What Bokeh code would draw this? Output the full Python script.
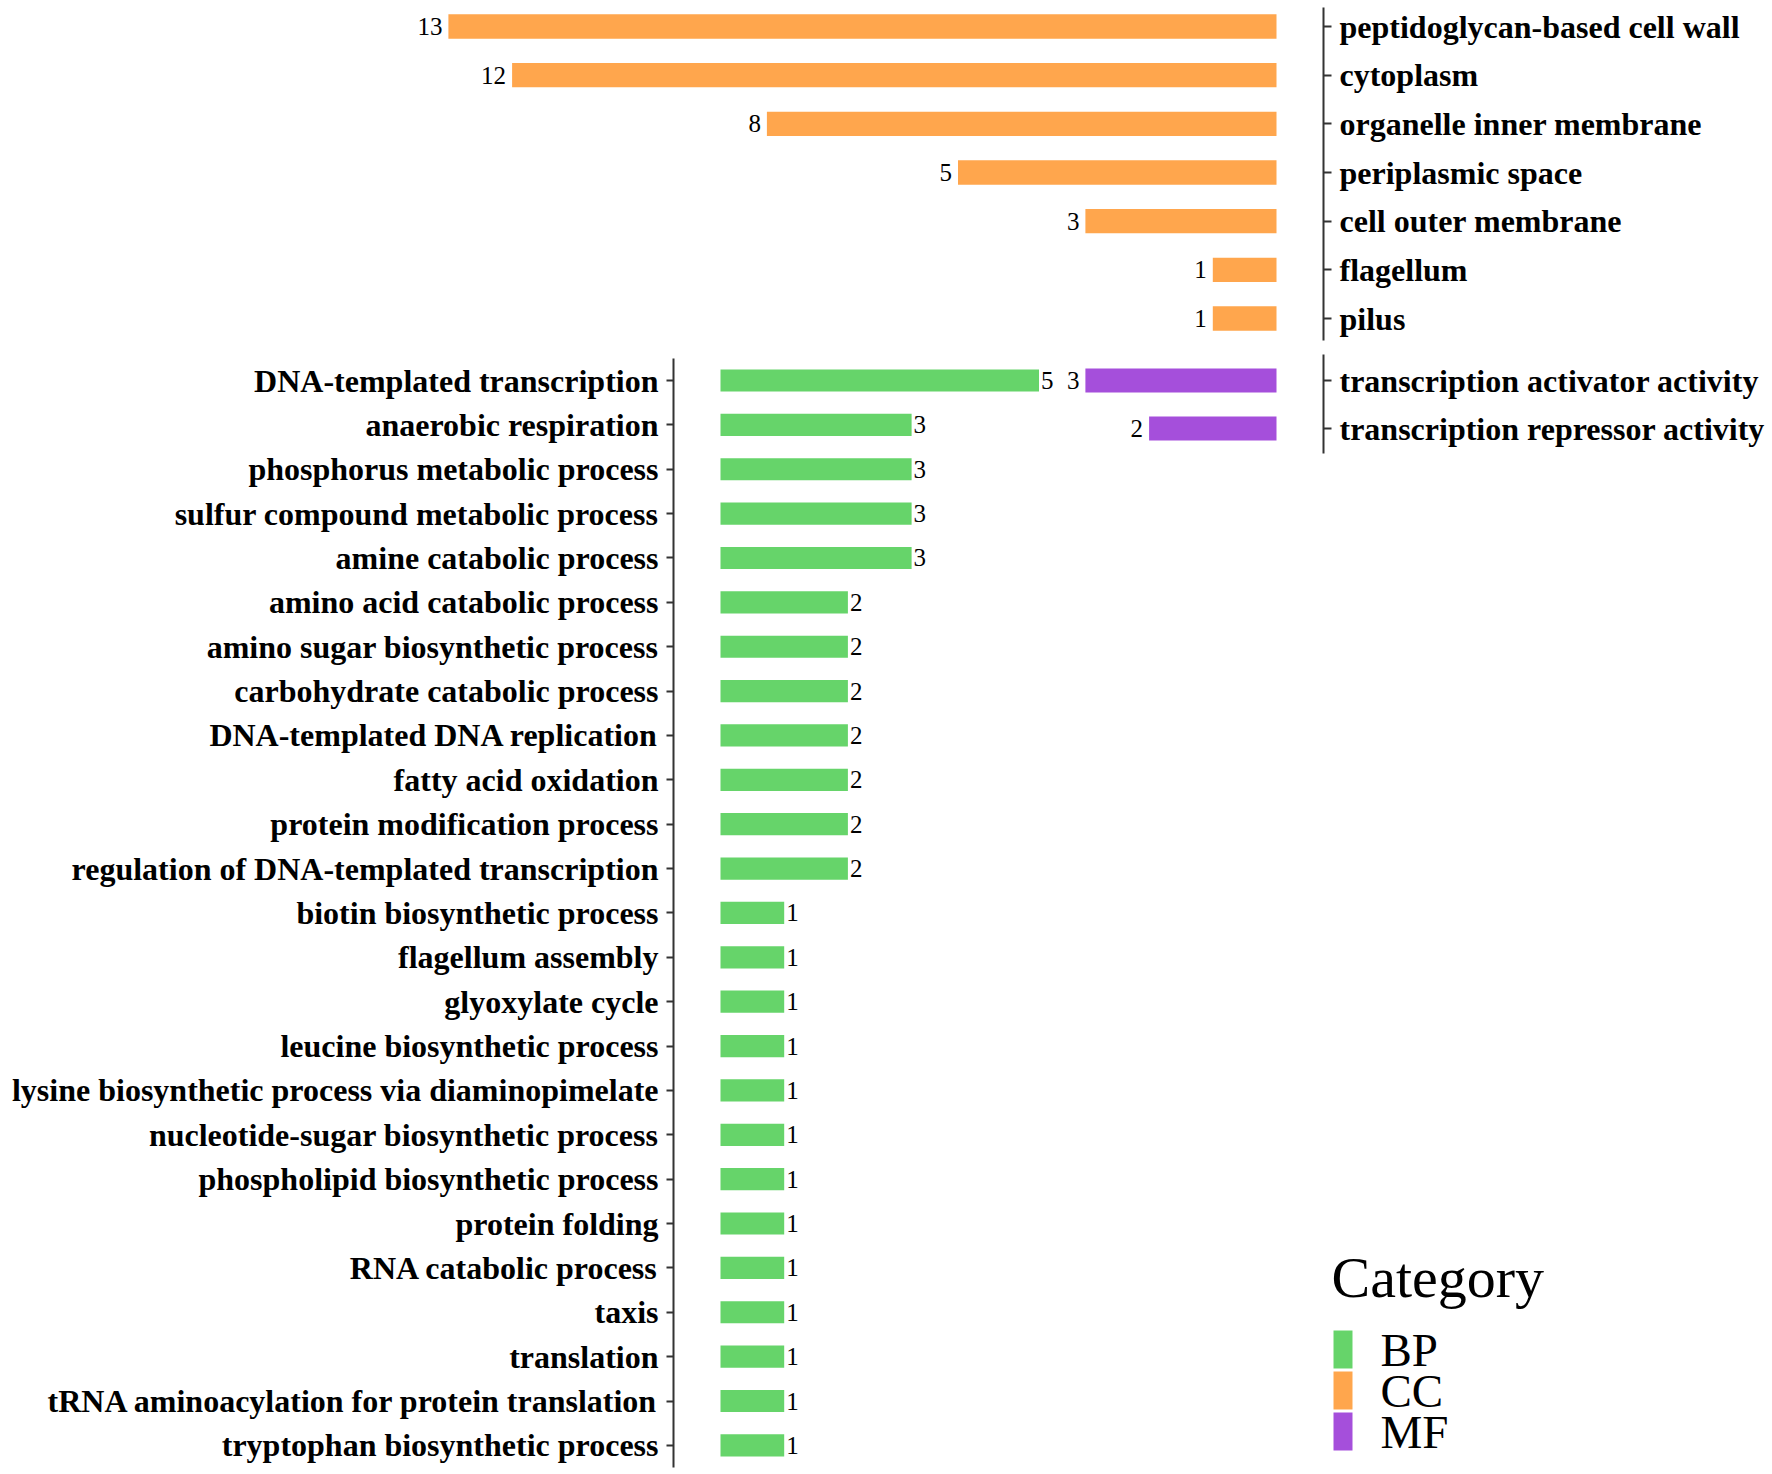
import numpy as np
from bokeh.plotting import figure
from bokeh.models import Range1d, FixedTicker, ColumnDataSource
from bokeh.layouts import row, column
from bokeh.core.properties import value
from bokeh.embed import file_html
from bokeh.resources import INLINE

# ---------------- data ----------------
cc_terms = ["peptidoglycan-based cell wall", "cytoplasm", "organelle inner membrane",
            "periplasmic space", "cell outer membrane", "flagellum", "pilus"]
cc_counts = [13, 12, 8, 5, 3, 1, 1]

mf_terms = ["transcription activator activity", "transcription repressor activity"]
mf_counts = [3, 2]

bp_terms = ["DNA-templated transcription", "anaerobic respiration",
            "phosphorus metabolic process", "sulfur compound metabolic process",
            "amine catabolic process", "amino acid catabolic process",
            "amino sugar biosynthetic process", "carbohydrate catabolic process",
            "DNA-templated DNA replication", "fatty acid oxidation",
            "protein modification process", "regulation of DNA-templated transcription",
            "biotin biosynthetic process", "flagellum assembly", "glyoxylate cycle",
            "leucine biosynthetic process", "lysine biosynthetic process via diaminopimelate",
            "nucleotide-sugar biosynthetic process", "phospholipid biosynthetic process",
            "protein folding", "RNA catabolic process", "taxis", "translation",
            "tRNA aminoacylation for protein translation", "tryptophan biosynthetic process"]
bp_counts = [5, 3, 3, 3, 3, 2, 2, 2, 2, 2, 2, 2, 1, 1, 1, 1, 1, 1, 1, 1, 1, 1, 1, 1, 1]

categories = ["BP", "CC", "MF"]
colors = ["#66D46A", "#FFA64D", "#A54FDB"]
legend_title = "Category"

# ---------------- styling / layout constants ----------------
FONT = "Liberation Serif"
PX = 63.7          # pixels per count unit
GAP = 47           # px between axis line and bar base
AXIS_COL = "#333333"
BAR_H = 0.5


def style_axis(ax, tick_out, standoff):
    ax.axis_line_color = AXIS_COL
    ax.axis_line_width = 2
    ax.major_tick_line_color = AXIS_COL
    ax.major_tick_line_width = 2
    ax.major_tick_out = tick_out
    ax.major_tick_in = 0
    ax.minor_tick_line_color = None
    ax.major_label_text_font = FONT
    ax.major_label_text_font_style = "bold"
    ax.major_label_text_font_size = "32px"
    ax.major_label_text_color = "black"
    ax.major_label_standoff = standoff


def panel(terms, counts, color, width, height, bl, br, bt, bb,
          pitch, first_off, side, label_side):
    fw = width - bl - br
    fh = height - bt - bb
    n = len(terms)
    idx = list(range(n))
    if side == "right":   # bars grow to the left, axis on right
        x_end = -GAP / PX
        x_start = x_end + fw / PX
    else:
        x_start = -GAP / PX
        x_end = x_start + fw / PX
    y_top = -first_off / pitch
    y_bot = y_top + fh / pitch
    p = figure(width=width, height=height, output_backend="svg", toolbar_location=None,
               x_range=Range1d(x_start, x_end), y_range=Range1d(y_bot, y_top),
               x_axis_location=None, y_axis_location=side,
               min_border_left=bl, min_border_right=br,
               min_border_top=bt, min_border_bottom=bb)
    p.outline_line_color = None
    p.xgrid.visible = False
    p.ygrid.visible = False
    p.background_fill_color = "white"
    p.border_fill_color = "white"
    src = ColumnDataSource(dict(y=idx, v=counts, t=[str(c) for c in counts]))
    p.hbar(y="y", left=0, right="v", height=BAR_H, source=src,
           fill_color=color, line_color=None)
    if label_side == "left":
        p.text(x="v", y="y", text="t", source=src, x_offset=-6,
               text_align="right", text_baseline="middle",
               text_font=value(FONT), text_font_size="25px", text_color="black")
    else:
        p.text(x="v", y="y", text="t", source=src, x_offset=2,
               text_align="left", text_baseline="middle",
               text_font=value(FONT), text_font_size="25px", text_color="black")
    ax = p.yaxis[0]
    ax.ticker = FixedTicker(ticks=idx)
    ax.major_label_overrides = {i: t for i, t in zip(idx, terms)}
    return p


# CC panel (top): page x 0..1772, y 0..346
cc = panel(cc_terms, cc_counts, colors[1], 1772, 346, 380, 449, 7, 6,
           48.67, 19, "right", "left")
style_axis(cc.yaxis[0], 8, 8)

# BP panel (bottom-left): page x 0..1062, y 346..1474
bp = panel(bp_terms, bp_counts, colors[0], 1062, 1128, 673, 0, 12, 7,
           44.37, 22, "left", "right")
style_axis(bp.yaxis[0], 7, 8)

# MF panel: page x 1062..1772, y 346..463
mf = panel(mf_terms, mf_counts, colors[2], 710, 117, 0, 449, 8, 10,
           48.0, 26, "right", "left")
style_axis(mf.yaxis[0], 8, 8)

# Legend panel: page x 1062..1772, y 463..1474 (pixel-like data space, y downward)
LW, LH = 710, 1011
lg = figure(width=LW, height=LH, output_backend="svg", toolbar_location=None,
            x_range=Range1d(0, LW), y_range=Range1d(LH, 0),
            x_axis_location=None, y_axis_location=None,
            min_border_left=0, min_border_right=0, min_border_top=0, min_border_bottom=0)
lg.outline_line_color = None
lg.xgrid.visible = False
lg.ygrid.visible = False

KEY_X0, KEY_W, KEY_H = 271, 19, 38
KEY_FIRST, KEY_PITCH = 886, 41
LABEL_X = 318
k = np.arange(len(categories))
key_src = ColumnDataSource(dict(
    y=KEY_FIRST + k * KEY_PITCH,
    cat=categories, col=colors))
lg.hbar(y="y", left=KEY_X0, right=KEY_X0 + KEY_W, height=KEY_H,
        fill_color="col", line_color=None, source=key_src)
lg.text(x=LABEL_X, y="y", text="cat", source=key_src,
        text_align="left", text_baseline="middle",
        text_font=value(FONT), text_font_size="47px", text_color="black")
lg.text(x=[KEY_X0 - 2], y=[814], text=[legend_title],
        text_align="left", text_baseline="middle",
        text_font=value(FONT), text_font_size="58px", text_color="black")

# wrap lg in its own row so its frame is not aligned with the MF frame
layout = column(cc, row(bp, column(mf, row(lg))))

open("out.html", "w").write(file_html(layout, INLINE))
